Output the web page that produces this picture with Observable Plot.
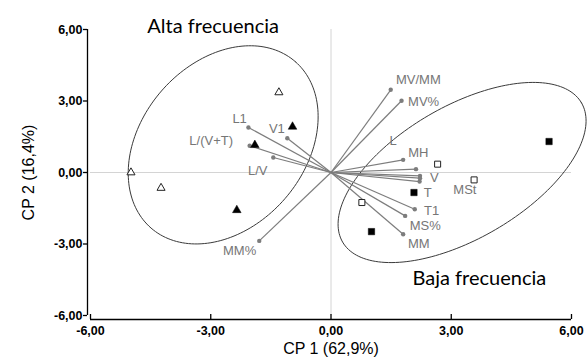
<!DOCTYPE html>
<html>
<head>
<meta charset="utf-8">
<script src="https://cdn.jsdelivr.net/npm/d3@7"></script>
<script src="https://cdn.jsdelivr.net/npm/@observablehq/plot@0.6"></script>
<style>
  html, body { margin: 0; padding: 0; background: #ffffff; }
  #chart { width: 588px; height: 358px; }
</style>
</head>
<body>
<div id="chart"></div>
<script>
// ---- Variable loadings (vectors) ----
const varNames = ["MV/MM", "MV%", "L", "MH", "V", "T", "MSt", "T1", "MS%", "MM", "L1", "V1", "L/(V+T)", "L/V", "MM%"];
const varX = [1.49, 1.76, 2.12, 1.80, 2.22, 2.22, 2.21, 2.09, 1.85, 1.80, -2.06, -1.09, -2.03, -1.44, -1.79];
const varY = [3.47, 3.01, 0.14, 0.53, -0.14, -0.24, -0.38, -1.54, -1.82, -2.59, 1.89, 1.44, 1.12, 0.63, -2.87];
// label anchor positions (data units)
const varLabelX = [2.18, 2.31, 1.55, 2.18, 2.58, 2.41, 3.34, 2.51, 2.35, 2.19, -2.28, -1.35, -2.99, -1.83, -2.28];
const varLabelY = [3.89, 2.98, 1.33, 0.84, -0.24, -0.84, -0.74, -1.60, -2.22, -2.98, 2.25, 1.85, 1.33, 0.07, -3.29];

// ---- Observations (scores) ----
const obsGroup  = ["Alta", "Alta", "Alta", "Alta", "Alta", "Alta", "Baja", "Baja", "Baja", "Baja", "Baja", "Baja"];
const obsFilled = [false, false, false, true, true, true, false, false, false, true, true, true];
const obsX = [-1.30, -4.99, -4.24, -0.96, -1.90, -2.35, 2.66, 3.57, 0.77, 5.44, 2.07, 1.01];
const obsY = [3.36, 0.00, -0.65, 1.92, 1.15, -1.58, 0.35, -0.31, -1.26, 1.30, -0.84, -2.48];

// ---- Group ellipses (centre + two conjugate semi-axis vectors, data units) ----
const ellipseNames = ["Alta frecuencia", "Baja frecuencia"];
const ellipseCX = [-2.69, 3.27];
const ellipseCY = [1.16, 0.00];
const ellipseAX = [1.80, 2.98];
const ellipseAY = [3.49, 2.92];
const ellipseBX = [-1.54, -0.83];
const ellipseBY = [2.26, 2.40];
const titleX = [-2.94, 3.70];
const titleY = [6.13, -4.46];

// ---- Axes ----
const xTicks = [-6, -3, 0, 3, 6];
const yTicks = [-6, -3, 0, 3, 6];
const xLabel = "CP 1 (62,9%)";
const yLabel = "CP 2 (16,4%)";

const fmt = d => d.toFixed(2).replace(".", ",");

const vars = varNames.map((name, i) => ({name, x: varX[i], y: varY[i], lx: varLabelX[i], ly: varLabelY[i]}));
const obs = obsX.map((x, i) => ({x, y: obsY[i], group: obsGroup[i], filled: obsFilled[i]}));
const ellipsePts = [];
ellipseNames.forEach((name, k) => {
  d3.range(0, 361, 2).forEach(deg => {
    const t = deg * Math.PI / 180;
    ellipsePts.push({
      name,
      x: ellipseCX[k] + ellipseAX[k] * Math.cos(t) + ellipseBX[k] * Math.sin(t),
      y: ellipseCY[k] + ellipseAY[k] * Math.cos(t) + ellipseBY[k] * Math.sin(t)
    });
  });
});
const titles = ellipseNames.map((name, k) => ({name, x: titleX[k], y: titleY[k]}));

const chart = Plot.plot({
  width: 588,
  height: 358,
  marginLeft: 90,
  marginRight: 17,
  marginTop: 29,
  marginBottom: 43,
  x: {domain: [-6, 6]},
  y: {domain: [-6, 6]},
  style: {fontFamily: "'Liberation Sans', Arial, sans-serif", background: "#ffffff", color: "#000"},
  marks: [
    // zero reference lines
    Plot.ruleX([0], {stroke: "#d4d4d4", strokeWidth: 1}),
    Plot.ruleY([0], {stroke: "#d4d4d4", strokeWidth: 1}),
    // axis lines
    Plot.ruleX([-6], {dx: -3, stroke: "#000", strokeWidth: 1.3}),
    Plot.ruleY([-6], {dy: 4, stroke: "#000", strokeWidth: 1.3}),
    Plot.axisY({ticks: yTicks, tickFormat: fmt, tickSize: 4, tickPadding: 1, dx: -3, label: null,
                fontWeight: "bold", fontSize: 12.5, strokeWidth: 1.3, style: {letterSpacing: "0.4px"}}),
    Plot.axisX({ticks: xTicks, tickFormat: fmt, tickSize: -5, tickPadding: 12, dy: 4, label: null,
                fontWeight: "bold", fontSize: 12.5, strokeWidth: 1.3}),
    Plot.text([xLabel], {frameAnchor: "bottom", textAnchor: "middle", lineAnchor: "middle", dy: 33.5, fontSize: 16, fill: "#000", style: {letterSpacing: "0.4px"}}),
    Plot.text([yLabel], {x: xTicks[0], y: 0, textAnchor: "middle", lineAnchor: "middle", dx: -61.5, rotate: -90, fontSize: 16, fill: "#000"}),
    // ellipses
    Plot.line(ellipsePts, {x: "x", y: "y", z: "name", stroke: "#3a3a3a", strokeWidth: 1, curve: "linear"}),
    // loading vectors
    Plot.link(vars, {x1: 0, y1: 0, x2: "x", y2: "y", stroke: "#7d7d7d", strokeWidth: 1.2}),
    Plot.dot(vars, {x: "x", y: "y", r: 2.2, fill: "#7d7d7d"}),
    Plot.text(vars, {x: "lx", y: "ly", text: "name", fill: "#767676", fontSize: 13}),
    // observations
    Plot.dot(obs.filter(d => d.group === "Alta" && !d.filled), {x: "x", y: "y", symbol: "triangle", r: 3, fill: "#fff", stroke: "#222", strokeWidth: 1}),
    Plot.dot(obs.filter(d => d.group === "Alta" && d.filled), {x: "x", y: "y", symbol: "triangle", r: 3.2, fill: "#000", stroke: "#000", strokeWidth: 0.5}),
    Plot.dot(obs.filter(d => d.group === "Baja" && !d.filled), {x: "x", y: "y", symbol: "square", r: 3.4, fill: "#fff", stroke: "#222", strokeWidth: 1}),
    Plot.dot(obs.filter(d => d.group === "Baja" && d.filled), {x: "x", y: "y", symbol: "square", r: 3.6, fill: "#000", stroke: "#000", strokeWidth: 0.5}),
    // group titles
    Plot.text(titles, {x: "x", y: "y", text: "name", fontSize: 20, fontFamily: "Lato, 'Open Sans', sans-serif", fill: "#000"})
  ]
});
document.getElementById("chart").appendChild(chart);
</script>
</body>
</html>
